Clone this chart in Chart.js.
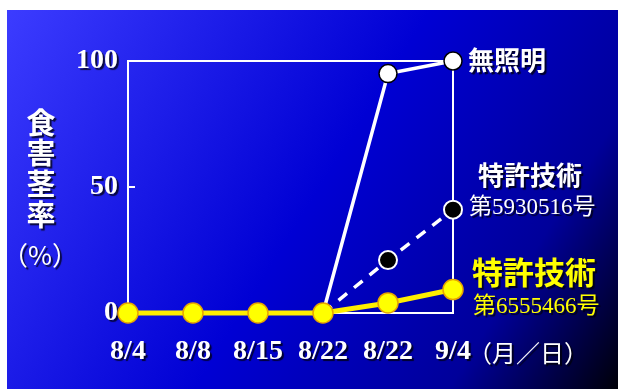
<!DOCTYPE html>
<html>
<head>
<meta charset="utf-8">
<script src="https://cdn.jsdelivr.net/npm/chart.js@4/dist/chart.umd.min.js"></script>
<style>
html,body{margin:0;padding:0;background:#fff;}
#wrap{position:relative;width:618px;height:389px;}
canvas{display:block;}
</style>
</head>
<body>
<div id="wrap"><canvas id="c" width="618" height="389"></canvas></div>
<script>
// ---- data ----
const categories = ['8/4', '8/8', '8/15', '8/22', '8/22', '9/4'];
const noLight = [null, null, null, 0, 95, 100];          // 無照明
const patent5930516 = [null, null, null, 0, 21, 41];     // 特許技術 第5930516号
const patent6555466 = [0, 0, 0, 0, 4, 9.3];              // 特許技術 第6555466号
const yTicks = [0, 50, 100];
const yTitleChars = ['食', '害', '茎', '率'];
const yTitleUnit = '（%）';
const xUnit = '（月／日）';
const seriesLabels = [
  {name: '無照明', sub: null},
  {name: '特許技術', sub: '第5930516号'},
  {name: '特許技術', sub: '第6555466号'}
];

const SERIF = "'Liberation Serif', 'Times New Roman', serif";
const CJK = "'Noto Sans CJK JP', 'Noto Sans', sans-serif";

const bgPlugin = {
  id: 'bg',
  beforeDraw(chart) {
    const ctx = chart.ctx;
    ctx.save();
    ctx.fillStyle = '#ffffff';
    ctx.fillRect(0, 0, chart.width, chart.height);
    const g = ctx.createLinearGradient(7, 10, 618, 389);
    g.addColorStop(0, '#3c3cff');
    g.addColorStop(0.5, '#0000d4');
    g.addColorStop(0.8, '#00009a');
    g.addColorStop(1, '#000008');
    ctx.fillStyle = g;
    ctx.fillRect(7, 10, chart.width - 7, chart.height - 10);
    ctx.restore();
    // shadow for axis tick labels
    ctx.shadowColor = 'rgba(0,0,0,0.75)';
    ctx.shadowOffsetX = 2;
    ctx.shadowOffsetY = 2;
    ctx.shadowBlur = 1;
  },
  beforeDatasetsDraw(chart) {
    const ctx = chart.ctx;
    ctx.shadowColor = 'rgba(0,0,0,0)';
    ctx.shadowOffsetX = 0;
    ctx.shadowOffsetY = 0;
    ctx.shadowBlur = 0;
    const a = chart.chartArea;
    const y = chart.scales.y;
    ctx.save();
    ctx.strokeStyle = '#ffffff';
    ctx.lineWidth = 2;
    ctx.strokeRect(a.left, a.top, a.right - a.left, a.bottom - a.top);
    // inward tick at 50
    const y50 = y.getPixelForValue(50);
    ctx.beginPath();
    ctx.moveTo(a.left, y50);
    ctx.lineTo(a.left + 7, y50);
    ctx.stroke();
    ctx.restore();
  },
  afterDraw(chart) {
    const ctx = chart.ctx;
    const x = chart.scales.x;
    ctx.save();
    ctx.shadowColor = 'rgba(0,0,0,0.75)';
    ctx.shadowOffsetX = 2;
    ctx.shadowOffsetY = 2;
    ctx.shadowBlur = 1;
    ctx.textBaseline = 'middle';
    ctx.textAlign = 'center';
    ctx.fillStyle = '#ffffff';
    // y title vertical
    ctx.font = 'bold 29px ' + CJK;
    const cy = [123, 153, 184, 215];
    yTitleChars.forEach((ch, i) => ctx.fillText(ch, 41, cy[i]));
    ctx.font = '26px ' + CJK;
    ctx.fillText(yTitleUnit, 40, 255);
    // x unit
    ctx.font = '24px ' + CJK;
    ctx.textAlign = 'left';
    ctx.fillText(xUnit, 468, 353);
    // series labels
    const lastX = x.getPixelForValue(categories.length - 1);
    ctx.font = 'bold 26px ' + CJK;
    ctx.fillText(seriesLabels[0].name, lastX + 15, 60);
    ctx.fillText(seriesLabels[1].name, lastX + 25, 175);
    ctx.font = "23px 'Liberation Serif', 'Noto Sans CJK JP'";
    ctx.fillText(seriesLabels[1].sub, lastX + 16, 208);
    ctx.fillStyle = '#ffff00';
    ctx.font = 'bold 31px ' + CJK;
    ctx.fillText(seriesLabels[2].name, lastX + 19, 272);
    ctx.font = "23px 'Liberation Serif', 'Noto Sans CJK JP'";
    ctx.fillText(seriesLabels[2].sub, lastX + 20, 307);
    ctx.restore();
  }
};

new Chart(document.getElementById('c'), {
  type: 'line',
  data: {
    labels: categories,
    datasets: [
      {
        label: '特許技術 第6555466号',
        data: patent6555466,
        borderColor: '#ffee00',
        borderWidth: 5,
        pointRadius: 10,
        pointBackgroundColor: '#ffff00',
        pointBorderColor: '#e8a400',
        pointBorderWidth: 1.5,
        clip: false,
        tension: 0
      },
      {
        label: '特許技術 第5930516号',
        data: patent5930516,
        borderColor: '#ffffff',
        borderWidth: 3.5,
        borderDash: [11, 9],
        pointRadius: 9,
        pointBackgroundColor: '#000000',
        pointBorderColor: '#ffffff',
        pointBorderWidth: 2,
        clip: false,
        tension: 0
      },
      {
        label: '無照明',
        data: noLight,
        borderColor: '#ffffff',
        borderWidth: 3.5,
        pointRadius: 9,
        pointBackgroundColor: '#ffffff',
        pointBorderColor: '#000000',
        pointBorderWidth: 1.5,
        clip: false,
        tension: 0
      }
    ]
  },
  options: {
    responsive: false,
    animation: false,
    devicePixelRatio: 1,
    layout: {padding: {top: 61, right: 165, left: 0, bottom: 0}},
    plugins: {legend: {display: false}, tooltip: {enabled: false}},
    scales: {
      x: {
        type: 'category',
        offset: false,
        grid: {display: false, drawTicks: false},
        border: {display: false},
        ticks: {
          color: '#ffffff',
          font: {family: SERIF, size: 28, weight: 'bold'},
          padding: 22,
          maxRotation: 0,
          autoSkip: false
        },
        afterFit(s) { s.height = 76; }
      },
      y: {
        min: 0,
        max: 100,
        afterBuildTicks(s) { s.ticks = yTicks.map(v => ({value: v})); },
        grid: {display: false, drawTicks: false},
        border: {display: false},
        ticks: {
          color: '#ffffff',
          font: {family: SERIF, size: 28, weight: 'bold'},
          padding: 10
        },
        afterFit(s) { s.width = 128; }
      }
    }
  },
  plugins: [bgPlugin]
});
</script>
</body>
</html>
